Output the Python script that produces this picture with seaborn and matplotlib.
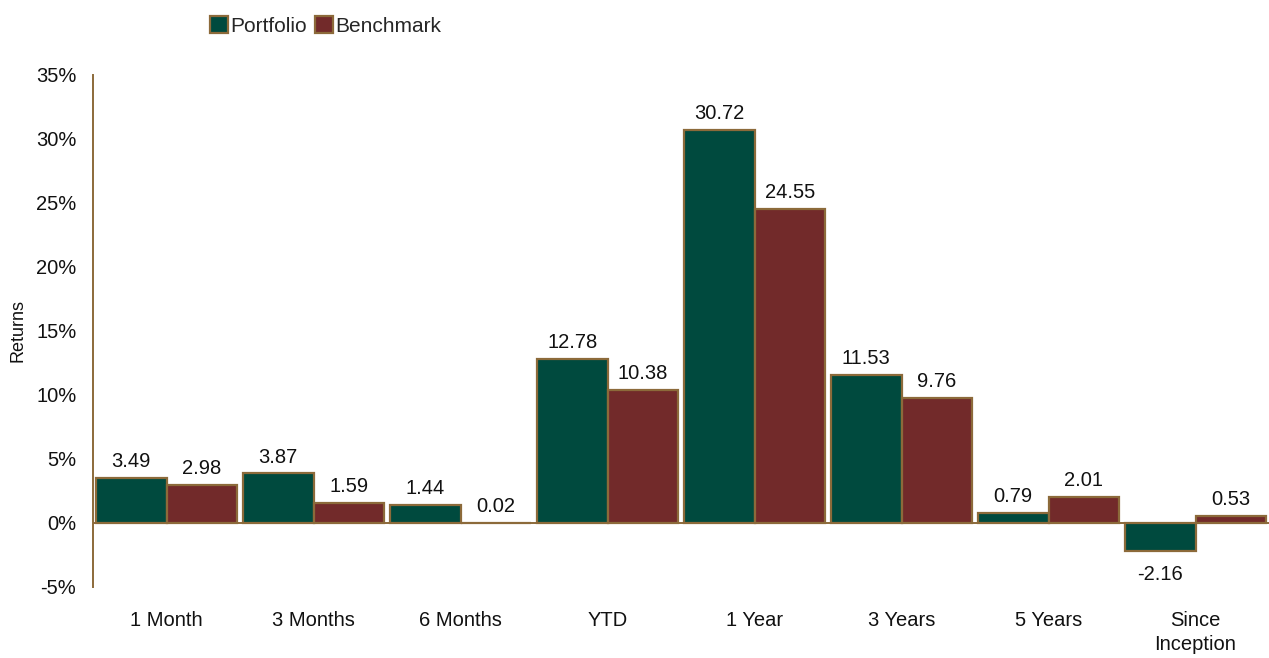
import matplotlib
matplotlib.use("Agg")
import matplotlib.pyplot as plt
import seaborn as sns
import pandas as pd
from matplotlib.ticker import FuncFormatter
from matplotlib.patches import Patch

categories = ["1 Month", "3 Months", "6 Months", "YTD", "1 Year", "3 Years", "5 Years", "Since\nInception"]
portfolio = [3.49, 3.87, 1.44, 12.78, 30.72, 11.53, 0.79, -2.16]
benchmark = [2.98, 1.59, 0.02, 10.38, 24.55, 9.76, 2.01, 0.53]
series = ["Portfolio", "Benchmark"]
colors = ["#004A3E", "#722A2A"]
edge = "#8C6A3A"

df = pd.DataFrame({
    "Period": categories * 2,
    "Series": [series[0]] * len(categories) + [series[1]] * len(categories),
    "Return": portfolio + benchmark,
})

sns.set_theme(style="white")
plt.rcParams["font.family"] = ["Liberation Sans", "DejaVu Sans"]

FS = 14.5
fig = plt.figure(figsize=(12.69, 6.58), dpi=100)
ax = fig.add_axes([93 / 1269, 71 / 658, 1 - 93 / 1269, (587 - 75) / 658])

sns.barplot(data=df, x="Period", y="Return", hue="Series", order=categories,
            hue_order=series, palette=colors, width=0.96, edgecolor=edge,
            linewidth=1.6, ax=ax, legend=False, saturation=1)

for container in ax.containers:
    pos = [f"{b.get_height():.2f}" if b.get_height() >= 0 else "" for b in container]
    neg = [f"{b.get_height():.2f}" if b.get_height() < 0 else "" for b in container]
    ax.bar_label(container, labels=pos, padding=5, fontsize=FS, color="#111111")
    ax.bar_label(container, labels=neg, padding=10, fontsize=FS, color="#111111")

ax.set_xlim(-0.5, 7.5)
ax.set_ylim(-5, 35)
ax.set_yticks(range(-5, 40, 5))
ax.yaxis.set_major_formatter(FuncFormatter(lambda v, p: f"{int(v)}%"))
ax.axhline(0, color=edge, linewidth=1.4, zorder=0.5)

for s in ["top", "right", "bottom"]:
    ax.spines[s].set_visible(False)
ax.spines["left"].set_color(edge)
ax.spines["left"].set_linewidth(1.4)

ax.tick_params(axis="y", length=0, labelsize=FS, pad=12, colors="#111111")
ax.tick_params(axis="x", length=0, labelsize=FS, pad=17, colors="#111111")
for t in ax.get_xticklabels():
    t.set_linespacing(1.35)
ax.set_xlabel("")
ax.set_ylabel("Returns", fontsize=13, color="#111111", labelpad=7)

handles = [Patch(facecolor=c, edgecolor=edge, linewidth=1.6) for c in colors]
fig.legend(handles, series, loc="upper left", bbox_to_anchor=(202 / 1269, 1 - 8 / 658),
           frameon=False, ncol=2, fontsize=15, handlelength=0.85, handleheight=0.85,
           handletextpad=0.1, columnspacing=0.4, borderaxespad=0)

fig.savefig("out.png", dpi=100)
